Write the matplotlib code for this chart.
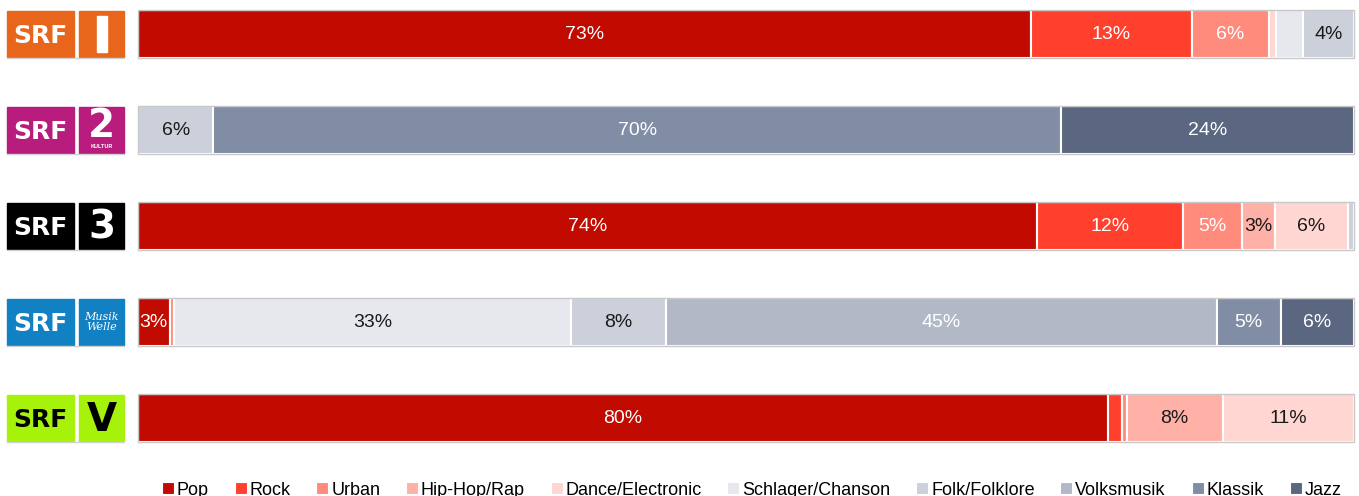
import numpy as np
import matplotlib.pyplot as plt
from matplotlib.patches import Rectangle
from matplotlib.lines import Line2D

plt.rcParams['font.family'] = ['Liberation Sans', 'DejaVu Sans']

stations = ['SRF 1', 'SRF 2 Kultur', 'SRF 3', 'SRF Musikwelle', 'SRF Virus']
genres = ['Pop', 'Rock', 'Urban', 'Hip-Hop/Rap', 'Dance/Electronic',
          'Schlager/Chanson', 'Folk/Folklore', 'Volksmusik', 'Klassik', 'Jazz']
colors = ['#c10a00', '#ff402c', '#ff8b7d', '#ffb0a7', '#ffd6d2',
          '#e6e8ed', '#ccd0da', '#b2b8c6', '#818da5', '#5b6781']
label_colors = ['white', 'white', 'white', '#1a1a1a', '#1a1a1a',
                '#1a1a1a', '#1a1a1a', 'white', 'white', 'white']

# share of airtime per genre (%), rows = stations, cols = genres
pop = [73.4, 0.0, 73.9, 2.6, 79.8]
rock = [13.3, 0.0, 12.0, 0.0, 1.1]
urban = [6.3, 0.0, 4.9, 0.4, 0.4]
hiphop = [0.0, 0.0, 2.7, 0.0, 7.9]
dance = [0.6, 0.0, 6.0, 0.0, 10.8]
schlager = [2.2, 0.0, 0.0, 32.6, 0.0]
folk = [4.2, 6.2, 0.5, 7.8, 0.0]
volksmusik = [0.0, 0.0, 0.0, 45.3, 0.0]
klassik = [0.0, 69.7, 0.0, 5.3, 0.0]
jazz = [0.0, 24.1, 0.0, 6.0, 0.0]

data = np.array([pop, rock, urban, hiphop, dance, schlager, folk,
                 volksmusik, klassik, jazz]).T

W, H = 1359, 496
fig = plt.figure(figsize=(W / 100, H / 100), dpi=100)

# bars
ax = fig.add_axes([138 / W, 30 / H, 1216 / W, 466 / H])
ax.set_xlim(0, 100)
ax.set_ylim(4.5, -0.354)
ax.axis('off')

for i in range(len(stations)):
    left = 0
    for j, g in enumerate(genres):
        v = data[i, j]
        if v <= 0:
            continue
        ax.barh(i, v, left=left, height=0.5, color=colors[j],
                edgecolor='white', linewidth=1.5)
        if v >= 2.5:
            ax.text(left + v / 2, i + 0.01, f'{v:.0f}%', ha='center', va='center',
                    fontsize=14, color=label_colors[j])
        left += v
    ax.add_patch(Rectangle((0, i - 0.25), 100, 0.5, fill=False,
                           edgecolor='#c8c8c8', linewidth=1, clip_on=False))

# logos
lax = fig.add_axes([0, 30 / H, 138 / W, 466 / H])
lax.set_xlim(0, 138)
lax.set_ylim(4.5, -0.354)
lax.axis('off')

logo_bg = ['#e8661c', '#b81c7c', '#000000', '#1281c4', '#a6f20a']
logo_fg = ['white', 'white', 'white', 'white', 'black']
hh = 0.24
for i in range(len(stations)):
    lax.add_patch(Rectangle((7, i - hh), 67, 2 * hh, color=logo_bg[i]))
    lax.add_patch(Rectangle((79, i - hh), 45, 2 * hh, color=logo_bg[i]))
    lax.plot([7, 124], [i + hh + 0.01] * 2, color='#d0d0d0', lw=1)
    lax.text(40.5, i + 0.02, 'SRF', ha='center', va='center', fontsize=18,
             fontweight='bold', color=logo_fg[i], family='DejaVu Sans')

lax.add_patch(Rectangle((97, 0 - 0.19), 10, 0.38, color='white'))
lax.text(101.5, 1 - 0.04, '2', ha='center', va='center', fontsize=28,
         fontweight='bold', color='white', family='DejaVu Sans')
lax.text(101.5, 1 + 0.17, 'KULTUR', ha='center', va='center', fontsize=4,
         fontweight='bold', color='white')
lax.text(101.5, 2 + 0.02, '3', ha='center', va='center', fontsize=28,
         fontweight='bold', color='white', family='DejaVu Sans')
lax.text(101.5, 3, 'Musik\nWelle', ha='center', va='center', fontsize=8,
         style='italic', color='white', family='DejaVu Serif', linespacing=0.9)
lax.text(101.5, 4 + 0.02, 'V', ha='center', va='center', fontsize=28,
         fontweight='bold', color='black', family='DejaVu Sans')

# legend
handles = [Line2D([], [], marker='s', linestyle='', markersize=8,
                  markerfacecolor=c, markeredgecolor='white', markeredgewidth=0.8)
           for c in colors]
fig.legend(handles, genres, loc='lower center', bbox_to_anchor=(752 / W, -0.02),
           ncol=10, frameon=False, fontsize=13, handlelength=0.6,
           handletextpad=0.2, columnspacing=1.45, borderaxespad=0)

fig.savefig('out.png', dpi=100)
